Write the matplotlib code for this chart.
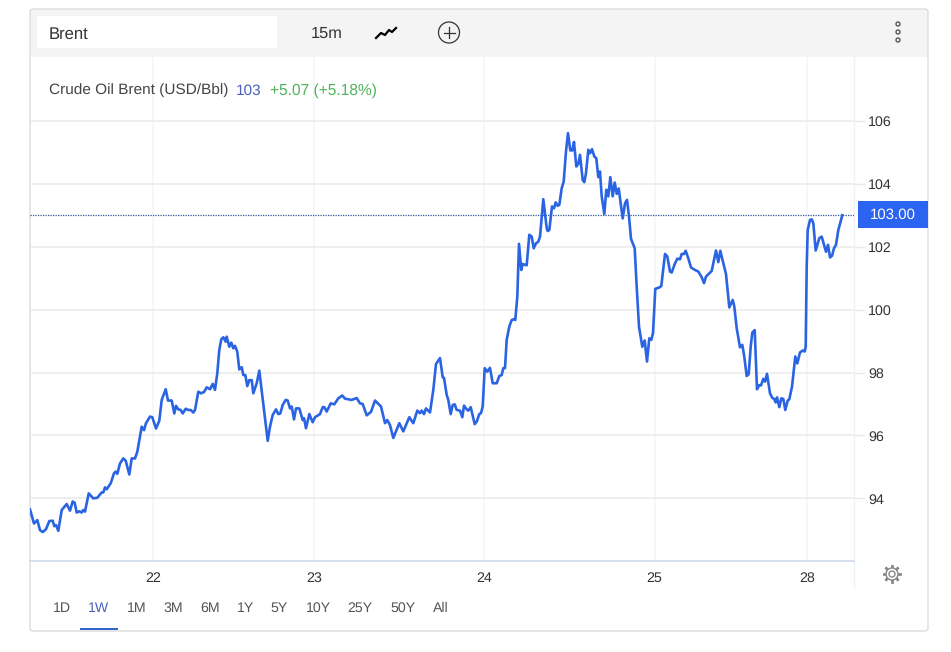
import matplotlib
matplotlib.use('Agg')
import matplotlib.pyplot as plt
from matplotlib.patches import Rectangle, Circle, FancyBboxPatch
import numpy as np

plt.rcParams['font.family'] = ['Liberation Sans', 'DejaVu Sans']
plt.rcParams['text.hinting'] = 'no_hinting'

# session position along the time axis, price in USD/Bbl
session = [0, 4, 7.3, 10, 12.7, 16, 19.3, 22.7, 24.3, 26, 28.3, 31.7, 36.7, 40, 42.7, 44.7, 46.7, 49.3, 51.7, 53.3, 55, 58.7,
           63.3, 67.3, 71.7, 73.3, 75, 76.7, 80.7, 84, 85.7, 87.3, 90, 93.3, 95.7, 99.3, 101.7, 105, 107.3, 111.7, 114, 116,
           120, 122.3, 126, 129.3, 131.7, 135.7, 138, 141.7, 144.3, 146, 148.3, 150.7, 152.7, 155.7, 158.3, 160.7, 163.3,
           165, 168.3, 171, 174, 176.7, 180, 182.7, 185, 187.3, 189.3, 191.3, 193.3, 195.7, 196.7, 199.3, 201.3, 203.3, 205,
           207.3, 209.3, 211.7, 213.3, 215.3, 217.3, 219.3, 221.7, 223.3, 226.7, 229.3, 237.7, 240, 242.7, 246, 248.3, 250.3,
           252.7, 255.7, 257.7, 260, 261.7, 264, 266, 269.3,
           272.7, 274, 276, 279.3, 282.7, 285, 290, 292.7, 294.3, 296.7, 300.7, 304.3, 308.3, 312.3, 315, 321.7, 326.7, 330,
           332.7, 336.7, 341, 345, 351, 355, 357.3, 360, 363.3, 369.3, 373.3, 379.3, 383.3, 387.3, 390, 391.7, 394, 396, 400,
           403.3, 406, 410, 412.7, 414, 416.7, 418.3, 420.7, 422.7, 424.7, 426.7, 430, 432.3, 434, 436.7, 438.3, 440.7, 444.7,
           446.7, 449.3, 451, 452.7, 454.7, 457.3, 460, 462.7, 466.7, 469.3, 471.7, 473.3, 475,
           476.7, 479.3, 481.7, 484.3, 485.3, 487.3, 489, 491.3, 492.7, 496.7, 499.3, 501.7, 503.7, 506, 508.3, 510, 513.3,
           516.7, 517.7, 519.3, 522, 524, 525.7, 527.7, 529.3, 531.7, 533.7, 536, 538, 540.3, 542.3, 544, 546.3, 548.3, 550,
           552.7, 554.3, 556, 558.3, 560, 562, 564.3, 566.3, 568.3, 570, 571.7, 574.3, 576.3, 578.3, 580.3, 582.7, 584.7,
           586.7, 588.7, 592.7, 595, 597, 599, 601, 604.7, 606.7, 609, 612.3, 614.7, 617, 619.3, 621.3, 623, 625.3, 629.7,
           631.3, 635, 637.3, 640, 641.7, 645, 647.3, 650, 651.7, 654, 655.7, 658.3, 661, 665, 668.3, 671.7, 674, 676, 681.7,
           686, 688.3, 690.3, 696, 699.3, 702.7, 704.3, 706.7, 710, 712.3, 714.3, 716.7, 718.7, 720.7, 722.3, 724.7, 727,
           729.3, 731, 733.3, 735, 737, 740, 742, 744.3, 745.7, 747, 749.3, 751.3, 753.3, 755.3, 757.7, 759.3, 762, 765.3,
           767.3, 770, 772.7, 774.7, 775.7, 776.7, 777.7, 780, 781.7, 783.3, 785.7, 789.3, 791.7, 794, 796, 798, 800, 802,
           804, 806, 808.3, 812.3]
price = [93.65, 93.2, 93.31, 92.99, 92.93, 93.02, 93.28, 93.29, 93.12, 93.15, 92.97, 93.63, 93.82, 93.61, 93.9, 93.86, 93.55,
         93.59, 93.55, 93.63, 93.58, 94.16,
         94.0, 94.02, 94.19, 94.19, 94.35, 94.29, 94.48, 94.8, 94.85, 94.78, 95.11, 95.27, 95.2, 94.76, 95.27, 95.27, 95.48,
         96.28, 96.17, 96.39,
         96.6, 96.58, 96.22, 96.47, 97.13, 97.47, 97.11, 97.11, 96.7, 96.94, 96.83, 96.81, 96.7, 96.85, 96.81, 96.81, 96.73,
         96.81, 97.39, 97.34, 97.38, 97.53, 97.47, 97.64, 97.45, 97.98, 98.72, 99.06, 99.12, 98.98, 99.14, 98.82, 98.95,
         98.77, 98.85,
         98.66, 98.1, 98.17, 97.92, 97.92, 97.57, 97.76, 97.76, 97.34, 97.66, 98.06, 95.83, 96.28, 96.65, 96.83, 96.68, 96.7,
         96.97, 97.13, 97.11, 96.86, 96.92, 96.51, 96.86, 96.86,
         96.49, 96.55, 96.23, 96.68, 96.42, 96.58, 96.68, 96.9, 96.9, 96.76, 97.02, 96.99, 97.18, 97.27, 97.17, 97.13, 97.19,
         97.02, 97.0, 96.64, 96.75, 97.11, 96.92, 96.39, 96.49, 96.33, 95.92, 96.39, 96.13, 96.58, 96.39, 96.79, 96.71, 96.79,
         96.68, 96.86, 96.73,
         97.45, 98.27, 98.46, 97.85, 97.83, 97.29, 97.13, 96.68, 96.97, 96.99, 96.81, 96.79, 96.58, 96.95, 96.83, 96.79, 96.9,
         96.36, 96.44, 96.68, 96.71, 96.92, 98.14, 98.03, 98.15, 97.66, 97.66, 97.89, 97.92, 98.14, 98.14,
         99.04, 99.46, 99.67, 99.7, 99.67, 100.41, 102.09, 101.26, 101.45, 101.41, 102.38, 102.32, 101.95, 102.11, 102.16,
         102.32, 103.51, 102.59, 102.5, 102.53, 103.28, 103.22, 103.41, 103.3, 103.33, 103.86, 104.07, 105.03, 105.61, 105.06,
         105.06, 105.33, 104.55, 104.63, 104.92, 104.12, 104.05, 104.34, 105.08, 104.97, 105.1, 104.87, 104.81, 104.21, 104.39,
         103.6, 103.04, 103.81, 103.6, 104.21, 103.6, 104.04, 103.68, 103.85, 102.9, 103.38, 103.49, 102.96, 102.25, 101.95,
         100.73, 99.46, 98.82, 99.02, 98.35, 99.09, 99.04, 99.25, 100.66, 100.71,
         100.75, 101.77, 101.69, 101.21, 101.18, 101.47, 101.62, 101.6, 101.77, 101.77, 101.87, 101.63, 101.34, 101.26, 101.21,
         101.03, 100.84, 101.05, 101.23, 101.88, 101.51, 101.87, 101.13, 100.07, 100.31, 100.1, 99.41, 98.8, 98.88, 98.5,
         97.89, 97.95, 98.82, 99.27, 99.35, 97.47, 97.6, 97.59, 97.8, 97.71, 97.96, 97.34, 97.21, 97.15, 97.05, 97.21, 96.9,
         97.18, 97.16, 96.81, 97.11, 97.15, 97.55, 98.51, 98.29, 98.64, 98.7, 98.67, 98.82, 101.37, 102.53, 102.85, 102.87,
         102.75, 101.88, 102.27, 102.32, 102.06, 101.84, 102.06, 101.66, 101.71, 101.95, 102.06, 102.53, 103.0]

day_pos = [123, 284, 454, 624.5, 777]
day_labels = ['22', '23', '24', '25', '28']
price_ticks = [94, 96, 98, 100, 102, 104, 106]
ranges = ['1D', '1W', '1M', '3M', '6M', '1Y', '5Y', '10Y', '25Y', '50Y', 'All']
range_x = [62, 99, 136.5, 173, 210, 245.5, 279, 318, 360, 403, 441]

W, H = 951, 652
BLUE = '#2b64e3'

fig = plt.figure(figsize=(W / 100, H / 100), dpi=100, facecolor='white')

# page furniture drawn in pixel coordinates
bg = fig.add_axes([0, 0, 1, 1], zorder=0)
bg.set_xlim(0, W)
bg.set_ylim(H, 0)
bg.axis('off')

bg.add_patch(Rectangle((30, 9), 898, 48, fc='#f4f4f4', ec='none'))
bg.add_patch(FancyBboxPatch((30, 9), 898, 622, boxstyle='round,pad=0,rounding_size=3', fc='none', ec='#dcdcdc', lw=1))
bg.add_patch(Rectangle((37, 16), 240, 32, fc='white', ec='none'))
bg.text(49, 34, 'Brent', fontsize=12, color='#333333', va='center')
bg.text(311, 33.5, '15m', fontsize=11.8, color='#333333', va='center')

# line icon
bg.plot([376, 381, 385, 389, 392, 396], [38, 33, 35, 30, 32, 28], color='black', lw=1.6)
bg.add_patch(Circle((449, 32.5), 10.5, fc='none', ec='#333333', lw=0.9))
bg.plot([443.5, 454.5], [32.5, 32.5], color='#333333', lw=0.9)
bg.plot([449, 449], [27, 38], color='#333333', lw=0.9)
for yy in [24, 32, 40]:
    bg.add_patch(Circle((898, yy), 2, fc='none', ec='#555555', lw=1))

# title sits over the gridlines
fig.text(49 / W, 1 - 90.5 / H, 'Crude Oil Brent (USD/Bbl)', fontsize=11.1, color='#444444', va='center', zorder=5)
fig.text(235.5 / W, 1 - 90.5 / H, '103', fontsize=11.1, color='#4a62bd', va='center', zorder=5)
fig.text(269.5 / W, 1 - 90.5 / H, '+5.07 (+5.18%)', fontsize=11.2, color='#4fb35a', va='center', zorder=5)

# right edge of plot runs a bit below the axis
bg.plot([854, 854], [57, 587], color='#eef2f8', lw=1)

# price tag
bg.add_patch(Rectangle((858, 201), 70, 27, fc='#2b64f0', ec='none'))
bg.text(893, 215, f'{price[-1]:.2f}', fontsize=10.8, color='white', ha='center', va='center')

# gear
for ang in np.arange(0, 360, 45):
    ca, sa = np.cos(np.radians(ang)), np.sin(np.radians(ang))
    bg.plot([892 + 5.5 * ca, 892 + 8 * ca], [574 + 5.5 * sa, 574 + 8 * sa], color='#888888', lw=2)
bg.add_patch(Circle((892, 574), 6, fc='white', ec='#888888', lw=1, zorder=5))
bg.add_patch(Circle((892, 574), 3, fc='white', ec='#888888', lw=1, zorder=6))

for name, xx in zip(ranges, range_x):
    bg.text(xx, 608.5, name, fontsize=10.2, color='#4a62bd' if name == '1W' else '#555555', ha='center', va='center')
bg.add_patch(Rectangle((80, 628), 38, 2.2, fc='#3366cc', ec='none'))

# chart
ax = fig.add_axes([30 / W, 1 - 561 / H, 824 / W, 504 / H], zorder=1)
ax.patch.set_alpha(0)
ax.plot(session, price, color=BLUE, lw=1.9, solid_joinstyle='round', zorder=3)
ax.axhline(price[-1], color='#2f5597', lw=0.9, ls=(0, (1, 1)), zorder=2)

ax.set_xlim(0, 824)
ax.set_ylim(92.01, 108.03)
ax.set_xticks(day_pos)
ax.set_xticklabels(day_labels)
ax.set_yticks(price_ticks)
ax.yaxis.tick_right()
ax.grid(axis='y', color='#eaeaea', lw=1.1, zorder=1)
ax.grid(axis='x', color='#f3f5f9', lw=1.1, zorder=1)
ax.tick_params(axis='x', length=0, pad=7.5, labelsize=10.3, labelcolor='#333333')
ax.tick_params(axis='y', length=8, width=1, color='#eaeaea', pad=2.2, labelsize=10.3, labelcolor='#333333')

for side in ['top', 'left', 'right']:
    ax.spines[side].set_visible(False)
ax.spines['bottom'].set_color('#ccd6eb')
ax.spines['bottom'].set_linewidth(1.1)

fig.savefig('out.png', dpi=100)
